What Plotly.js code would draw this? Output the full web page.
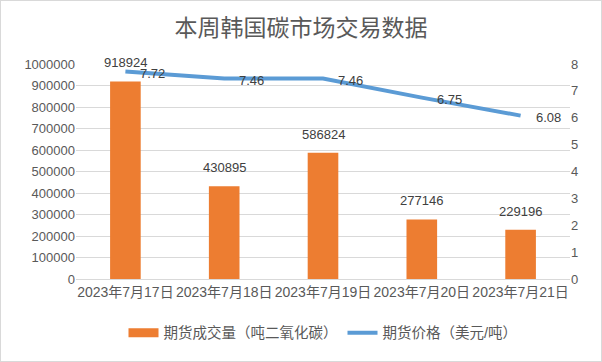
<!DOCTYPE html>
<html>
<head>
<meta charset="utf-8">
<script src="https://cdn.plot.ly/plotly-3.0.1.min.js"></script>
<style>
html,body{margin:0;padding:0;background:#fff;}
#chart{width:600px;height:360px;border:1px solid #d9d9d9;}
</style>
</head>
<body>
<div id="chart"></div>
<script>
const categories = ["2023年7月17日","2023年7月18日","2023年7月19日","2023年7月20日","2023年7月21日"];
const volume = [918924, 430895, 586824, 277146, 229196];
const price = [7.72, 7.46, 7.46, 6.75, 6.08];
const volumeName = "期货成交量（吨二氧化碳）";
const priceName = "期货价格（美元/吨）";
const titleText = "本周韩国碳市场交易数据";

const FONT = "Liberation Sans, Noto Sans CJK SC, sans-serif";
const GRAY = "#595959";
const ORANGE = "#ED7D31";
const BLUE = "#5B9BD5";

const barTrace = {
  type: "bar",
  x: categories,
  y: volume,
  name: volumeName,
  marker: {color: ORANGE},
  showlegend: false,
  hoverinfo: "skip"
};
// legend-only entry to mimic the wide rectangle key
const barLegend = {
  type: "scatter",
  mode: "lines",
  x: [null],
  y: [null],
  name: volumeName,
  line: {color: ORANGE, width: 9},
  hoverinfo: "skip"
};
const lineTrace = {
  type: "scatter",
  mode: "lines",
  x: categories,
  y: price,
  yaxis: "y2",
  name: priceName,
  line: {color: BLUE, width: 4},
  hoverinfo: "skip"
};

const barLabels = categories.map((c, i) => ({
  x: c, y: volume[i], xref: "x", yref: "y",
  text: String(volume[i]), showarrow: false,
  yanchor: "bottom", yshift: 9,
  font: {family: FONT, size: 13, color: "#404040"}
}));
const lineLabels = categories.map((c, i) => ({
  x: c, y: price[i], xref: "x", yref: "y2",
  text: price[i].toFixed(2), showarrow: false,
  xanchor: "left", yanchor: "middle", xshift: 13, yshift: -2,
  font: {family: FONT, size: 13, color: "#404040"}
}));

const layout = {
  width: 600, height: 360,
  margin: {l: 75, r: 31, t: 63, b: 79},
  paper_bgcolor: "#fff", plot_bgcolor: "#fff",
  font: {family: FONT, color: GRAY},
  title: {text: titleText, x: 0.5, xanchor: "center", y: 0.925, yanchor: "middle",
          font: {family: "Noto Sans CJK SC, sans-serif", size: 23, color: GRAY}},
  bargap: 0.69,
  showlegend: true,
  legend: {orientation: "h", x: 0.5, xanchor: "center", y: -0.25, yanchor: "middle",
           font: {family: FONT, size: 14.5, color: GRAY}, traceorder: "normal", itemwidth: 30},
  xaxis: {type: "category", showgrid: false, showline: true, linecolor: "#d9d9d9", linewidth: 1,
          ticks: "", tickfont: {family: FONT, size: 14, color: GRAY}, fixedrange: true},
  yaxis: {range: [0, 1000000], dtick: 100000, tickformat: "d", showgrid: true, gridcolor: "#d9d9d9",
          zeroline: false, showline: false, ticks: "", tickfont: {family: FONT, size: 13, color: GRAY}},
  yaxis2: {range: [0, 8], dtick: 1, overlaying: "y", side: "right", showgrid: false, zeroline: false,
           showline: false, ticks: "", tickfont: {family: FONT, size: 13, color: GRAY}},
  annotations: barLabels.concat(lineLabels)
};

Plotly.newPlot("chart", [barTrace, barLegend, lineTrace], layout, {displayModeBar: false, staticPlot: true});
</script>
</body>
</html>
